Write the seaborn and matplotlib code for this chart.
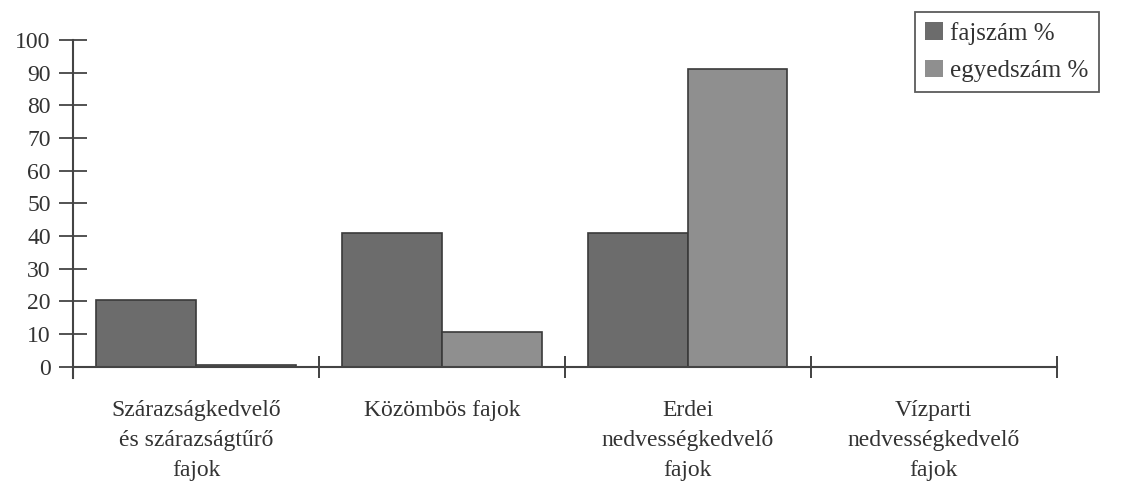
import pandas as pd
import matplotlib
matplotlib.use("Agg")
import matplotlib.pyplot as plt
import seaborn as sns

categories = [
    "Szárazságkedvelő\nés szárazságtűrő\nfajok",
    "Közömbös fajok",
    "Erdei\nnedvességkedvelő\nfajok",
    "Vízparti\nnedvességkedvelő\nfajok",
]
series_names = ["fajszám %", "egyedszám %"]
fajszam = [20.5, 41, 41, 0]
egyedszam = [0.5, 10.5, 91, 0]
y_ticks = [0, 10, 20, 30, 40, 50, 60, 70, 80, 90, 100]

colors = ["#6c6c6c", "#8f8f8f"]


def build_frame():
    rows = []
    for name, values in zip(series_names, [fajszam, egyedszam]):
        for cat, val in zip(categories, values):
            rows.append({"kategória": cat, "sorozat": name, "érték": val})
    return pd.DataFrame(rows)


def plot_chart(df):
    sns.set_style("white")
    plt.rcParams["font.family"] = ["Liberation Serif", "DejaVu Serif"]

    fig = plt.figure(figsize=(11.23, 4.88), dpi=100)
    ax = fig.add_axes([0.065, 0.2254, 0.876, 0.6926])

    sns.barplot(data=df, x="kategória", y="érték", hue="sorozat",
                palette=colors, width=0.81, edgecolor="#3a3a3a",
                linewidth=1.2, ax=ax, legend=True)

    ax.set_xlim(-0.5, len(categories) - 0.5)
    ax.set_ylim(-3.5, 100)
    ax.set_yticks(y_ticks)
    ax.set_yticklabels([str(t) for t in y_ticks])
    ax.tick_params(axis="y", left=True, direction="inout", length=20,
                   width=1.3, color="#444444", pad=6, labelsize=17,
                   labelcolor="#333333")

    # category boundaries as crossing ticks, labels at centres without ticks
    ax.set_xticks(range(len(categories)))
    ax.set_xticklabels(categories)
    ax.tick_params(axis="x", which="major", bottom=True, length=0, pad=24,
                   labelsize=17, labelcolor="#333333")
    ax.set_xticks([i - 0.5 for i in range(len(categories) + 1)], minor=True)
    ax.tick_params(axis="x", which="minor", bottom=True, direction="inout",
                   length=16, width=1.3, color="#333333")

    for s in ["top", "right"]:
        ax.spines[s].set_visible(False)
    ax.spines["bottom"].set_position(("data", 0))
    ax.spines["bottom"].set_linewidth(1.5)
    ax.spines["bottom"].set_color("#444444")
    ax.spines["left"].set_linewidth(1.5)
    ax.spines["left"].set_color("#444444")
    ax.set_xlabel("")
    ax.set_ylabel("")
    ax.grid(False)

    handles, labels = ax.get_legend_handles_labels()
    leg = ax.legend(handles, labels, loc="upper left",
                    bbox_to_anchor=(0.815, 0.976),
                    bbox_transform=fig.transFigure, borderaxespad=0,
                    fontsize=18, frameon=True, fancybox=False,
                    edgecolor="#333333", handlelength=0.7, handleheight=0.7,
                    handletextpad=0.3, labelspacing=0.6, borderpad=0.4,
                    labelcolor="#333333")
    leg.get_frame().set_linewidth(1.3)
    for h in leg.legend_handles:
        h.set_edgecolor("none")

    fig.canvas.draw()
    for tick in ax.xaxis.get_major_ticks():
        tick.label1.set_linespacing(1.55)
    return fig


if __name__ == "__main__":
    df = build_frame()
    fig = plot_chart(df)
    fig.savefig("out.png", dpi=100)
